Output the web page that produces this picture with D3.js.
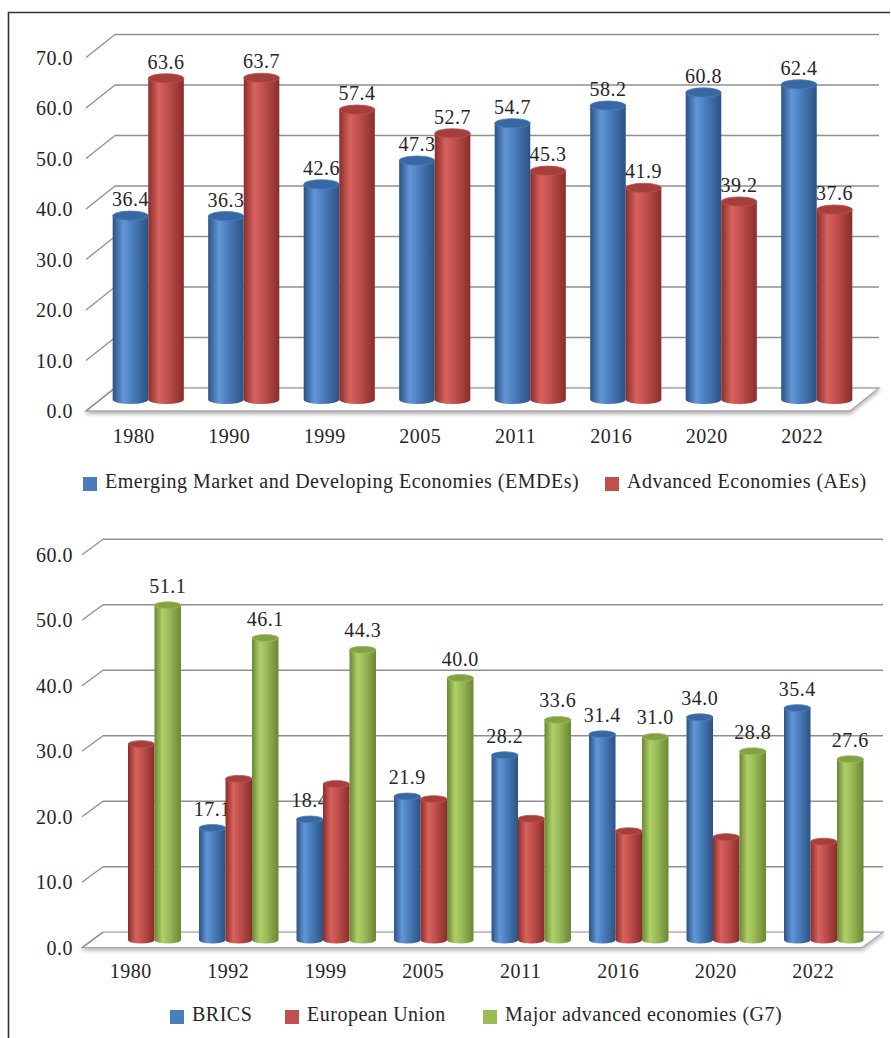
<!DOCTYPE html>
<html>
<head>
<meta charset="utf-8">
<script src="https://cdnjs.cloudflare.com/ajax/libs/d3/7.8.5/d3.min.js"></script>
<style>
  body { margin: 0; background: #fff; }
  svg text { font-family: "Liberation Serif", "Times New Roman", serif; fill: #262626; letter-spacing: 0.5px; }
</style>
</head>
<body>
<script>
// ---- data ----
var topYears = ["1980", "1990", "1999", "2005", "2011", "2016", "2020", "2022"];
var emdes = [36.4, 36.3, 42.6, 47.3, 54.7, 58.2, 60.8, 62.4];
var aes = [63.6, 63.7, 57.4, 52.7, 45.3, 41.9, 39.2, 37.6];
var topTicks = [0, 10, 20, 30, 40, 50, 60, 70];

var bottomYears = ["1980", "1992", "1999", "2005", "2011", "2016", "2020", "2022"];
var brics = [null, 17.1, 18.4, 21.9, 28.2, 31.4, 34.0, 35.4];
var eu = [29.9, 24.6, 23.8, 21.5, 18.5, 16.6, 15.7, 15.0];   // unlabelled
var g7 = [51.1, 46.1, 44.3, 40.0, 33.6, 31.0, 28.8, 27.6];
var bottomTicks = [0, 10, 20, 30, 40, 50, 60];

// colours (office palette)
var palette = {
  blue:  { flat: "#4a7ebb", dark: "#2b5384", light: "#6296d6", cap: "#3868a4" },
  red:   { flat: "#c0504d", dark: "#8a2d2a", light: "#d8625e", cap: "#a43f3c" },
  green: { flat: "#9bbb59", dark: "#6a8733", light: "#afd068", cap: "#83a244" }
};

var W = 891, H = 1038;
var svg = d3.select("body").append("svg")
  .attr("width", W)
  .attr("height", H);

var defs = svg.append("defs");

// cylinder gradients
Object.keys(palette).forEach(function(k) {
  var c = palette[k];
  var g = defs.append("linearGradient")
    .attr("id", "grad-" + k)
    .attr("x1", "0%").attr("x2", "100%").attr("y1", "0%").attr("y2", "0%");
  g.append("stop").attr("offset", "0%").attr("stop-color", c.dark);
  g.append("stop").attr("offset", "30%").attr("stop-color", c.light);
  g.append("stop").attr("offset", "55%").attr("stop-color", c.flat);
  g.append("stop").attr("offset", "100%").attr("stop-color", c.dark);
});

// soft shadow for the floor
var f = defs.append("filter").attr("id", "floorShadow")
  .attr("x", "-5%").attr("y", "-50%").attr("width", "110%").attr("height", "200%");
f.append("feDropShadow")
  .attr("dx", 0).attr("dy", 2).attr("stdDeviation", 2)
  .attr("flood-color", "#000").attr("flood-opacity", 0.35);

// frame
svg.append("path")
  .attr("d", "M8.5,1038 L8.5,12.5 L890,12.5")
  .attr("fill", "none")
  .attr("stroke", "#333")
  .attr("stroke-width", 1.6);

function drawChart(cfg) {
  var g = svg.append("g");

  var x = d3.scaleBand()
    .domain(cfg.categories)
    .range([cfg.x0, cfg.x1]);

  var y = d3.scaleLinear()
    .domain([0, d3.max(cfg.ticks)])
    .range([cfg.base, cfg.top]);

  var names = cfg.series.map(function(s) { return s.name; });
  var gw = x.bandwidth() * cfg.groupFrac;
  var sub = d3.scaleBand()
    .domain(names)
    .range([-gw / 2, gw / 2]);

  var dx = cfg.dx, dy = cfg.dy;

  // floor
  g.append("path")
    .attr("d", "M" + cfg.x0 + "," + y(0) +
      " L" + (cfg.x0 + dx) + "," + (y(0) + dy) +
      " L" + (cfg.x1 + dx) + "," + (y(0) + dy) +
      " L" + cfg.x1 + "," + y(0) + " Z")
    .attr("fill", "#fff")
    .attr("stroke", "#a6a6a6")
    .attr("stroke-width", 1.3)
    .attr("filter", "url(#floorShadow)");

  // back wall gridlines + side wall diagonals
  cfg.ticks.forEach(function(t) {
    if (t > 0) {
      g.append("line")
        .attr("x1", cfg.x0 + dx).attr("x2", cfg.x1 + dx)
        .attr("y1", y(t) + dy).attr("y2", y(t) + dy)
        .attr("stroke", "#8f8f8f")
        .attr("stroke-width", 1.5);
    }
    g.append("line")
      .attr("x1", cfg.x0).attr("x2", cfg.x0 + dx)
      .attr("y1", y(t)).attr("y2", y(t) + dy)
      .attr("stroke", "#8f8f8f")
      .attr("stroke-width", 1.3);
  });

  // y tick labels
  g.selectAll(".ytick")
    .data(cfg.ticks)
    .enter().append("text")
    .attr("class", "ytick")
    .attr("x", 73)
    .attr("y", function(d) { return y(d); })
    .attr("dy", "0.35em")
    .attr("text-anchor", "end")
    .style("font-size", cfg.fontSize + "px")
    .text(function(d) { return d3.format(".1f")(d); });

  // x labels
  g.selectAll(".xlab")
    .data(cfg.categories)
    .enter().append("text")
    .attr("class", "xlab")
    .attr("x", function(d) { return x(d) + x.bandwidth() / 2; })
    .attr("y", cfg.xLabelY)
    .attr("text-anchor", "middle")
    .style("font-size", cfg.fontSize + "px")
    .text(function(d) { return d; });

  // cylinders, one series at a time (labels drawn with their series)
  var rx = sub.bandwidth() / 2;
  var ry = rx * cfg.ryFrac;
  cfg.series.forEach(function(s) {
    var c = palette[s.color];
    var items = cfg.categories.map(function(cat, i) {
      return { cat: cat, v: s.values[i] };
    }).filter(function(d) { return d.v != null; });

    var cyl = g.selectAll(null)
      .data(items)
      .enter().append("g");

    cyl.each(function(d) {
      var cx = x(d.cat) + x.bandwidth() / 2 + sub(s.name) + rx + dx / 2;
      var yb = y(0) + dy / 2;
      var yt = y(d.v) + dy / 2;
      var sel = d3.select(this);
      sel.append("path")
        .attr("d", "M" + (cx - rx) + "," + yt +
          " L" + (cx - rx) + "," + yb +
          " A" + rx + "," + ry + " 0 0 0 " + (cx + rx) + "," + yb +
          " L" + (cx + rx) + "," + yt + " Z")
        .attr("fill", "url(#grad-" + s.color + ")");
      sel.append("ellipse")
        .attr("cx", cx).attr("cy", yt)
        .attr("rx", rx).attr("ry", ry)
        .attr("fill", c.cap)
        .attr("stroke", c.flat)
        .attr("stroke-width", 0.8);
      if (s.labels) {
        sel.append("text")
          .attr("x", cx)
          .attr("y", yt - ry - cfg.labelGap)
          .attr("text-anchor", "middle")
          .style("font-size", cfg.fontSize + "px")
          .text(d3.format(".1f")(d.v));
      }
    });
  });

  // legend
  var lg = g.append("g");
  cfg.series.forEach(function(s, i) {
    lg.append("rect")
      .attr("x", cfg.legendX[i])
      .attr("y", cfg.legendY - 11)
      .attr("width", 14).attr("height", 14)
      .attr("fill", palette[s.color].flat);
    lg.append("text")
      .attr("x", cfg.legendX[i] + 22)
      .attr("y", cfg.legendY)
      .style("font-size", cfg.fontSize + "px")
      .text(s.name);
  });
}

drawChart({
  categories: topYears,
  series: [
    { name: "Emerging Market and Developing Economies (EMDEs)", values: emdes, color: "blue", labels: true },
    { name: "Advanced Economies (AEs)", values: aes, color: "red", labels: true }
  ],
  ticks: topTicks,
  x0: 86, x1: 850,
  base: 411, top: 57.5,
  dx: 29, dy: -23,
  groupFrac: 0.745,
  ryFrac: 0.26,
  labelGap: 5,
  fontSize: 20,
  xLabelY: 443,
  legendX: [83, 605],
  legendY: 488
});

drawChart({
  categories: bottomYears,
  series: [
    { name: "BRICS", values: brics, color: "blue", labels: true },
    { name: "European Union", values: eu, color: "red", labels: false },
    { name: "Major advanced economies (G7)", values: g7, color: "green", labels: true }
  ],
  ticks: bottomTicks,
  x0: 82, x1: 862,
  base: 947.7, top: 554.7,
  dx: 21, dy: -15.5,
  groupFrac: 0.815,
  ryFrac: 0.26,
  labelGap: 9,
  fontSize: 20,
  xLabelY: 978,
  legendX: [170, 285, 483],
  legendY: 1021
});
</script>
</body>
</html>
